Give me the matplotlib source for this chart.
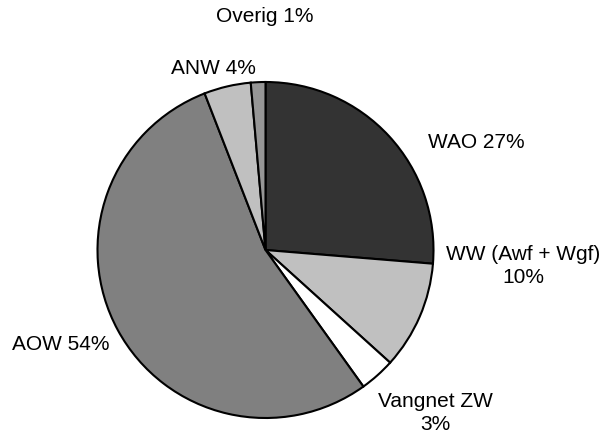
import matplotlib.pyplot as plt

plt.rcParams['font.family'] = ['Liberation Sans', 'DejaVu Sans']

# slice shares (percent), clockwise from 12 o'clock
categories = ["WAO", "WW (Awf + Wgf)", "Vangnet ZW", "AOW", "ANW", "Overig"]
shares = [26.3, 10.4, 3.4, 54.0, 4.5, 1.4]
labels = ["WAO 27%", "WW (Awf + Wgf)\n10%", "Vangnet ZW\n3%",
          "AOW 54%", "ANW 4%", "Overig 1%"]
colors = ["#333333", "#c0c0c0", "#ffffff", "#808080", "#c0c0c0", "#969696"]

# label centres in pixels of the 608x441 figure
label_px = [(476, 143), (523, 266), (435, 413), (61, 345), (213, 68), (265, 16)]

W, H = 608, 441
cx, cy, r = 265.5, 250, 168

fig = plt.figure(figsize=(W / 100, H / 100), dpi=100)
ax = fig.add_axes([0, 0, 1, 1])

ax.pie(shares, colors=colors, startangle=90, counterclock=False,
       wedgeprops=dict(edgecolor='black', linewidth=1.5))

for lab, (px, py) in zip(labels, label_px):
    ax.text((px - cx) / r, (cy - py) / r, lab, ha='center', va='center',
            fontsize=15, linespacing=1.3, color='black')

ax.set_xlim(-cx / r, (W - cx) / r)
ax.set_ylim(-(H - cy) / r, cy / r)
ax.set_aspect('auto')
ax.axis('off')

plt.savefig('out.png', dpi=100)
